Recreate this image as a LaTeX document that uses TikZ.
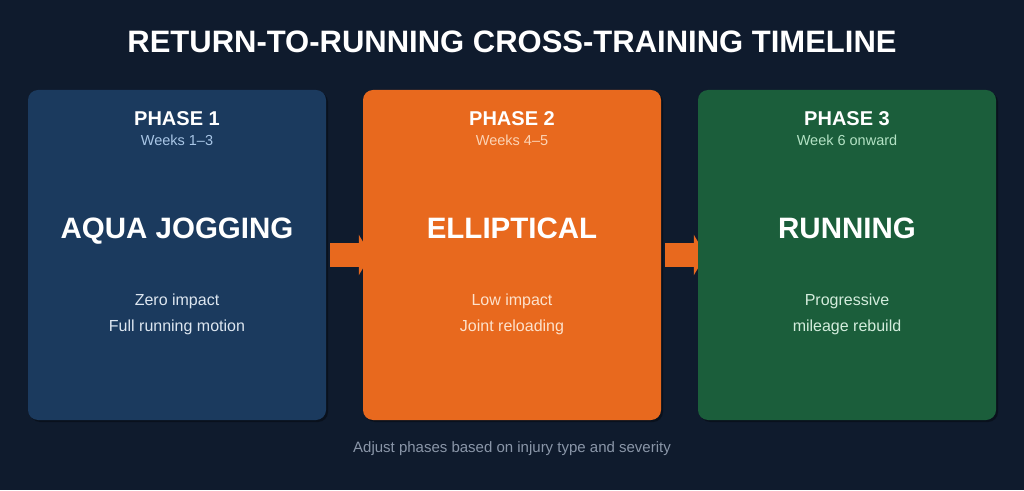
\documentclass[tikz,border=0pt]{standalone}
\usepackage{fontspec}
\setmainfont{Liberation Sans}
\usepackage{tikz}
\usetikzlibrary{positioning,arrows.meta,shadows}

\definecolor{pagebg}{HTML}{0F1B2D}
\definecolor{aquablue}{HTML}{1B3A5E}
\definecolor{ellorange}{HTML}{E8691E}
\definecolor{rungreen}{HTML}{1B5E3B}
\definecolor{weekblue}{HTML}{A9C6E6}
\definecolor{bodyblue}{HTML}{DDE6F0}
\definecolor{weekorange}{HTML}{FCD3B4}
\definecolor{bodyorange}{HTML}{FDE2CC}
\definecolor{weekgreen}{HTML}{B3E2C4}
\definecolor{bodygreen}{HTML}{D3ECDC}
\definecolor{footgray}{HTML}{8A96A8}

\pgfdeclarelayer{pagefill}
\pgfdeclarelayer{behind}
\pgfsetlayers{pagefill,behind,main}

\tikzset{
  phasebox/.style={minimum width=298pt,minimum height=330pt,rounded corners=10pt,
    drop shadow={shadow xshift=2pt,shadow yshift=-2pt,fill=black,opacity=0.35}},
  phasetitle/.style={font=\fontsize{20}{23}\selectfont\bfseries,text=white},
  phaseweeks/.style={font=\fontsize{14.5}{17}\selectfont},
  phasename/.style={font=\fontsize{29.5}{33}\selectfont\bfseries,text=white,anchor=base},
  phasebody/.style={font=\fontsize{16}{26}\selectfont,align=center},
  blockarrow/.style={ellorange,line width=24pt,-{Triangle[length=12pt,width=40pt]}}
}

\begin{document}
\begin{tikzpicture}[x=1pt,y=1pt]
  \begin{pgfonlayer}{pagefill}
    \fill[pagebg] (0,0) rectangle (1024,490);
  \end{pgfonlayer}
  \useasboundingbox (0,0) rectangle (1024,490);

  \node[font=\fontsize{31}{35}\selectfont\bfseries,text=white] (title) at (512,448)
    {RETURN-TO-RUNNING CROSS-TRAINING TIMELINE};

  % the three phases
  \foreach \i/\x/\col/\wk/\wkcol/\act/\bodycol/\la/\lb in {
      1/177/aquablue/Weeks 1--3/weekblue/AQUA JOGGING/bodyblue/Zero impact/Full running motion,
      2/512/ellorange/Weeks 4--5/weekorange/ELLIPTICAL/bodyorange/Low impact/Joint reloading,
      3/847/rungreen/Week 6 onward/weekgreen/RUNNING/bodygreen/Progressive/mileage rebuild} {
    \node[phasebox,fill=\col] (phase\i) at (\x,235) {};
    \node[phasetitle] (phasetitle\i) at ([yshift=-29pt]phase\i.north) {PHASE \i};
    \node[phaseweeks,text=\wkcol] (phaseweeks\i) at ([yshift=-51pt]phase\i.north) {\wk};
    \node[phasename] (phasename\i) at ([yshift=-148.5pt]phase\i.north) {\act};
    \node[phasebody,text=\bodycol] (phasebody\i) at ([yshift=-225pt]phase\i.north) {\la\\\lb};
  }

  \begin{pgfonlayer}{behind}
    \foreach \a/\b in {1/2,2/3}
      \draw[blockarrow] ([xshift=4pt]phase\a.east) -- ([xshift=8pt]phase\b.west);
  \end{pgfonlayer}

  \node[font=\fontsize{15}{18}\selectfont,text=footgray] (footnote) at (512,41)
    {Adjust phases based on injury type and severity};
\end{tikzpicture}
\end{document}
